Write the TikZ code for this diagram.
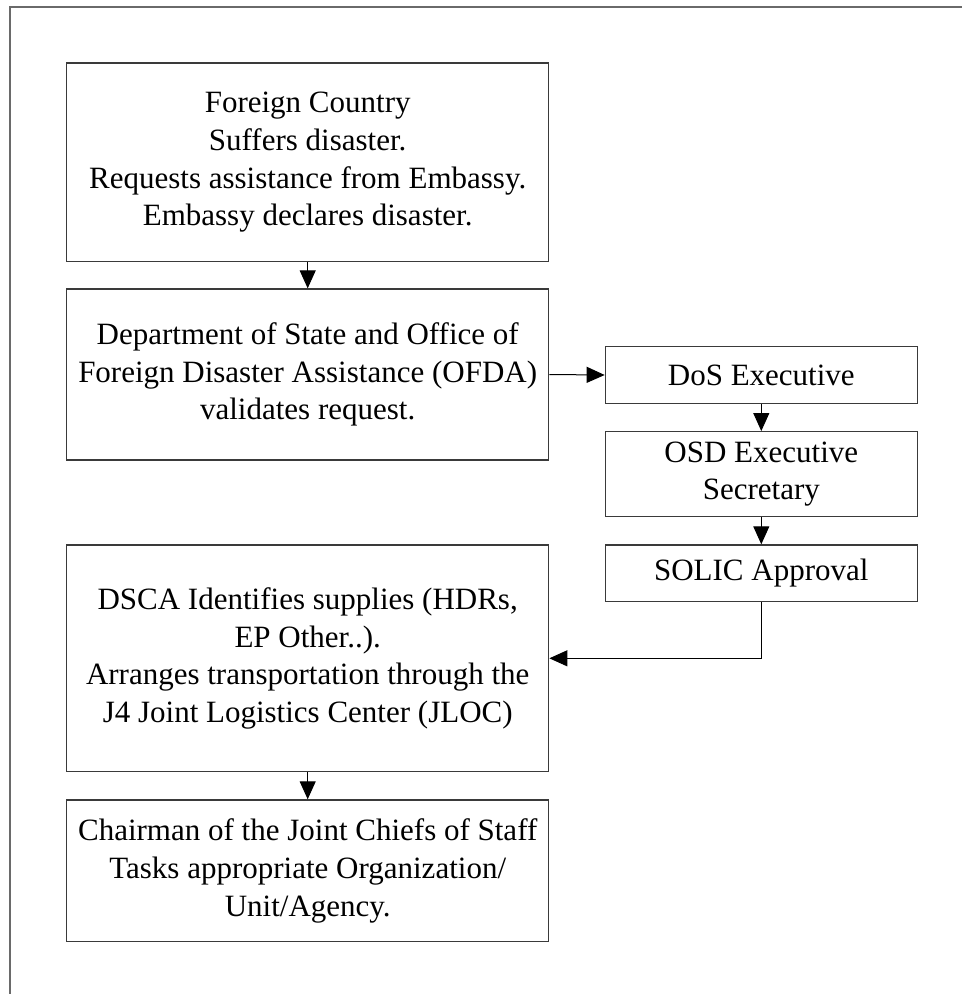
\documentclass[tikz,border=0pt]{standalone}
\usepackage{fontspec}
\setmainfont{Liberation Serif}
\usetikzlibrary{arrows.meta}
\definecolor{boxline}{HTML}{3A3A3A}
\definecolor{frameline}{HTML}{6A6A6A}
\tikzset{
  flowbox/.style={draw=boxline, line width=1.3pt, inner sep=0pt, align=center,
    font=\fontsize{31}{37.7}\selectfont, text=black},
  flowarrow/.style={draw=black, line width=1pt, -{Triangle[length=18pt,width=16pt]}},
}
\begin{document}
\begin{tikzpicture}[x=1pt,y=-1pt]
\useasboundingbox (0,0) rectangle (962,994);
\draw[frameline, line width=2pt] (9.5,994) -- (9.5,6.5) -- (962,6.5);

\node[flowbox, minimum width=482pt, minimum height=198.7pt] (fc) at (307.7,162.3)
  {Foreign Country\\Suffers disaster.\\Requests assistance from Embassy.\\Embassy declares disaster.};
\node[flowbox, minimum width=482pt, minimum height=171pt] (dos) at (307.7,374.5)
  {Department of State and Office of\\Foreign Disaster Assistance (OFDA)\\validates request.};
\node[flowbox, minimum width=312pt, minimum height=56.6pt] (exec) at (761.3,375)
  {DoS Executive};
\node[flowbox, minimum width=312pt, minimum height=85pt] (osd) at (761.3,474.2)
  {OSD Executive\\Secretary};
\node[flowbox, minimum width=312pt, minimum height=56.7pt] (solic) at (761.3,573.3)
  {SOLIC Approval};
\node[flowbox, minimum width=482pt, minimum height=226.7pt] (dsca) at (307.7,658.3)
  {DSCA Identifies supplies (HDRs,\\EP Other..).\\Arranges transportation through the\\J4 Joint Logistics Center (JLOC)};
\node[flowbox, minimum width=482pt, minimum height=141.7pt] (cjcs) at (307.7,870.8)
  {Chairman of the Joint Chiefs of Staff\\Tasks appropriate Organization/\\Unit/Agency.};

\draw[flowarrow] (fc.south) -- (dos.north);
\draw[flowarrow] (dos.east) -- (exec.west);
\draw[flowarrow] (exec.south) -- (osd.north);
\draw[flowarrow] (osd.south) -- (solic.north);
\draw[flowarrow] (solic.south) |- (dsca.east);
\draw[flowarrow] (dsca.south) -- (cjcs.north);
\end{tikzpicture}
\end{document}
